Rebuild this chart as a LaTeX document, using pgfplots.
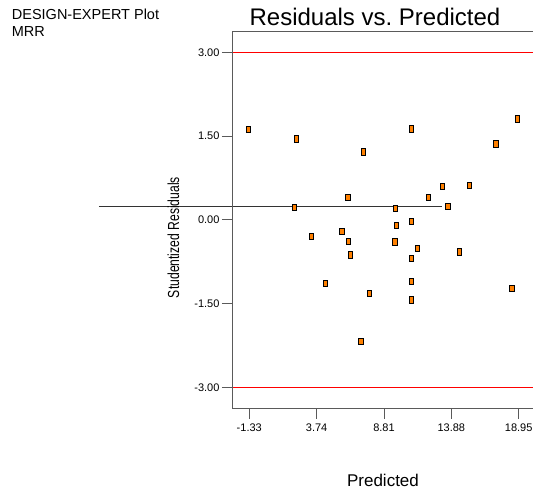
\documentclass[border=0pt]{standalone}
\usepackage{fontspec}
\setmainfont{Liberation Sans}
\usepackage{pgfplots}
\pgfplotsset{compat=1.18}
\definecolor{ptorange}{RGB}{255,128,0}
\definecolor{axgray}{RGB}{90,90,90}
\definecolor{limred}{RGB}{255,0,0}

\pgfplotstableread{
pred resid
-1.41 1.625
2.19 1.45
7.25 1.22
10.87 1.63
18.85 1.81
17.23 1.36
6.08 0.40
12.15 0.41
13.20 0.60
15.24 0.625
2.06 0.22
9.69 0.21
13.61 0.24
9.74 -0.10
10.87 -0.02
3.34 -0.30
5.65 -0.21
6.15 -0.38
6.28 -0.625
9.62 -0.39
11.30 -0.51
10.87 -0.69
14.48 -0.57
4.42 -1.14
7.71 -1.32
10.87 -1.10
10.87 -1.43
18.43 -1.22
7.06 -2.17
}\residdata

\pgfplotstableread{
x y
-2.63 3
20.03 3
}\upperlimit
\pgfplotstableread{
x y
-2.63 -3
20.03 -3
}\lowerlimit

\begin{document}
\begin{tikzpicture}
\begin{axis}[
    anchor=south west,
    at={(232pt,-408.7pt)},
    scale only axis,
    width=301pt,
    height=377pt,
    xmin=-2.63, xmax=20.03,
    ymin=-3.38, ymax=3.37,
    clip=false,
    axis line style={draw=none},
    tick pos=left,
    tick align=outside,
    major tick length=10pt,
    tick style={draw=axgray, line width=0.9pt},
    xtick={-1.33,3.74,8.81,13.88,18.95},
    xticklabels={-1.33,3.74,8.81,13.88,18.95},
    ytick={-3,-1.5,0,1.5,3},
    yticklabels={-3.00,-1.50,0.00,1.50,3.00},
    ticklabel style={font=\fontsize{11}{13}\selectfont},
    xticklabel style={yshift=-2pt},
    yticklabel style={xshift=1pt},
]
% limit lines at +/-3
\addplot[color=limred, line width=1.1pt, forget plot] table {\upperlimit};
\addplot[color=limred, line width=1.1pt, forget plot] table {\lowerlimit};
\addplot[black!80, line width=0.9pt, forget plot] coordinates {(-12.65,0.25) (13.18,0.25)};
% data
\addplot[only marks, mark=square*,
    mark options={draw=black, fill=ptorange, line width=0.7pt, xscale=0.72, yscale=1.05},
    mark size=3pt] table[x=pred, y=resid] {\residdata};
% frame (left, top, bottom)
\draw[axgray, line width=1pt] (rel axis cs:1,1) -- (rel axis cs:0,1) -- (rel axis cs:0,0) -- (rel axis cs:1,0);
\end{axis}
\node[anchor=base, font=\fontsize{24}{28}\selectfont] at (375pt,-25pt) {Residuals vs.\ Predicted};
\node[anchor=base west, font=\fontsize{14.5}{17}\selectfont, inner sep=0pt] at (11.7pt,-19.3pt) {DESIGN-EXPERT Plot};
\node[anchor=base west, font=\fontsize{14.5}{17}\selectfont, inner sep=0pt] at (11.7pt,-36.7pt) {MRR};
\node[rotate=90, font=\fontsize{16}{18}\selectfont, inner sep=0pt] at (173.5pt,-237.5pt) {\scalebox{0.76}[1]{Studentized Residuals}};
\node[anchor=base, font=\fontsize{17}{20}\selectfont, inner sep=0pt] at (383pt,-486pt) {Predicted};
\pgfresetboundingbox
\path (0,0) rectangle (533pt,-490pt);
\end{tikzpicture}
\end{document}
